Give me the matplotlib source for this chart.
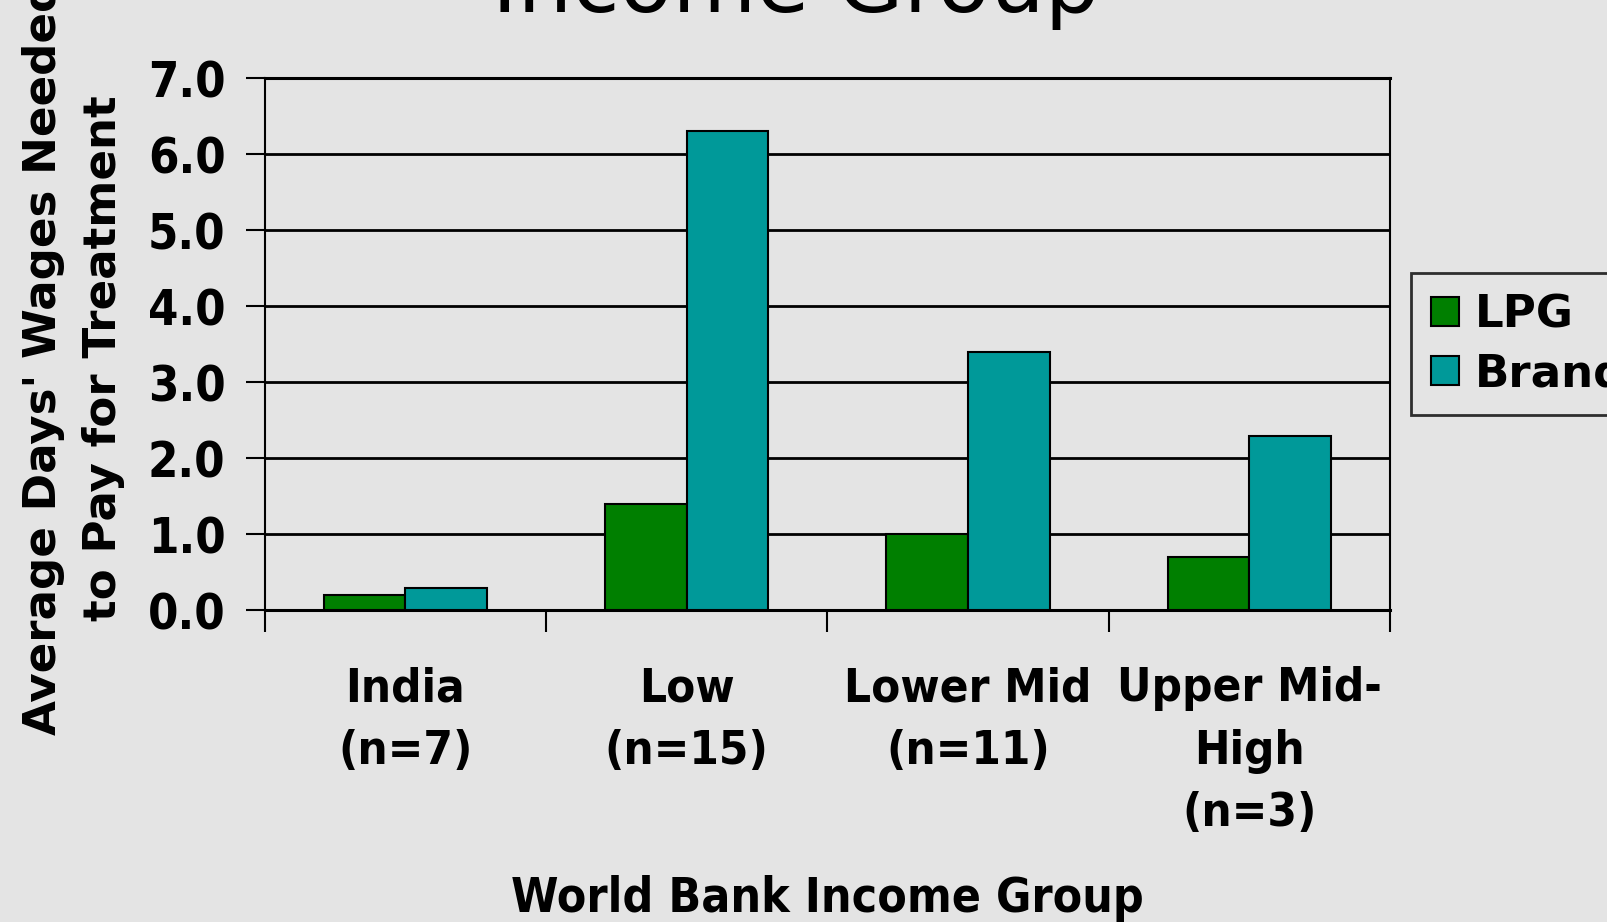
import numpy as np
from matplotlib import pyplot as plt

groups = ['India\n(n=7)', 'Low\n(n=15)', 'Lower Mid\n(n=11)', 'Upper Mid-\nHigh\n(n=3)']
lpg = [0.2, 1.4, 1.0, 0.7]
brand = [0.3, 6.3, 3.4, 2.3]
yticks = [0.0, 1.0, 2.0, 3.0, 4.0, 5.0, 6.0, 7.0]

bg = '#e4e4e4'
plt.rcParams['font.family'] = ['DejaVu Sans']

fig = plt.figure(figsize=(16.07, 9.22), dpi=100, facecolor=bg)
ax = fig.add_axes([0.1646, 0.3379, 0.7004, 0.5775], facecolor=bg)

x = np.arange(len(groups))
w = 0.29
ax.bar(x - w / 2, lpg, w, color='#007f00', edgecolor='black', linewidth=1.5, label='LPG', zorder=3)
ax.bar(x + w / 2, brand, w, color='#009999', edgecolor='black', linewidth=1.5, label='Brand', zorder=3)

ax.set_xlim(-0.5, len(groups) - 0.5)
ax.set_ylim(0, 7)
ax.set_yticks(yticks)
ax.set_yticklabels([f'{v:.1f}' for v in yticks], fontsize=35, fontweight='bold', fontstretch='condensed')
ax.yaxis.grid(True, color='black', linewidth=2.0, zorder=0)
ax.tick_params(axis='y', length=14, width=1.5, pad=14)

# category ticks sit on the group boundaries, labels in the middle
ax.set_xticks(np.arange(len(groups) + 1) - 0.5)
ax.set_xticklabels([])
ax.set_xticks(x, minor=True)
ax.set_xticklabels(groups, minor=True, fontsize=34, fontweight='bold', fontstretch='condensed',
                   linespacing=1.5, va='top')
ax.tick_params(axis='x', which='major', length=16, width=1.5)
ax.tick_params(axis='x', which='minor', length=0, pad=40)

for s in ax.spines.values():
    s.set_color('black')
    s.set_linewidth(1.5)
ax.spines['bottom'].set_linewidth(2.2)
ax.spines['top'].set_linewidth(2.2)

fig.text(0.0455, 0.612, "Average Days' Wages Needed\nto Pay for Treatment", rotation=90,
         ha='center', va='center', fontsize=32.5, fontweight='bold', linespacing=1.5, multialignment='center')
fig.text(0.515, 0.025, 'World Bank Income Group', ha='center', va='center',
         fontsize=34.5, fontweight='bold', fontstretch='condensed')
fig.text(0.495, 1.0 - 12.5 / 922, 'Income Group', ha='center', va='baseline', fontsize=62)

leg = fig.legend(loc='upper left', bbox_to_anchor=(1411 / 1607, 1 - 273 / 922),
                 prop={'size': 32.5, 'weight': 'bold'}, frameon=True, fancybox=False,
                 handlelength=0.62, handleheight=0.62, handletextpad=0.35, borderpad=0.45,
                 labelspacing=0.35, borderaxespad=0)
leg.get_frame().set_edgecolor('black')
leg.get_frame().set_linewidth(2)
leg.get_frame().set_facecolor(bg)

fig.savefig('out.png', dpi=100, facecolor=bg)
